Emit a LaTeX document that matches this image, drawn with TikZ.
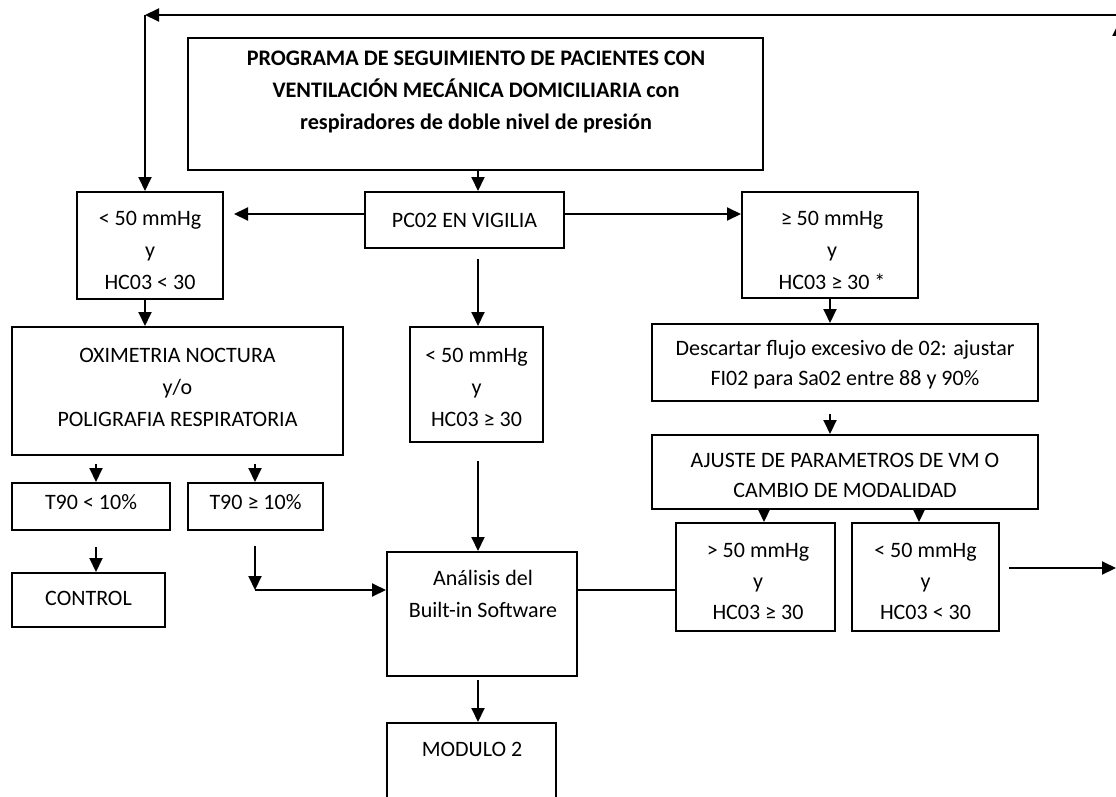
\documentclass[tikz,border=0pt]{standalone}
\usepackage{fontspec}
\setmainfont{Carlito}
\usetikzlibrary{arrows.meta}
\begin{document}
\begin{tikzpicture}[x=1pt,y=-1pt,
  box/.style={draw, line width=2pt, inner sep=0pt},
  txt/.style={align=center, inner sep=0pt, font=\fontsize{22}{32}\selectfont},
  ttl/.style={align=center, inner sep=0pt, font=\bfseries\fontsize{22.2}{32}\selectfont},
  arr/.style={line width=2pt, -{Triangle[length=14pt,width=13pt]}},
  ln/.style={line width=2pt}]
\useasboundingbox[fill=white] (0,0) rectangle (1116,797);
% boxes
\node[box, minimum width=575pt, minimum height=132pt] (title) at (475.5,104) {};
\node[box, minimum width=199pt, minimum height=56pt] (pc) at (464.5,220) {};
\node[box, minimum width=146pt, minimum height=107pt] (L1) at (150,245.5) {};
\node[box, minimum width=176pt, minimum height=106pt] (R1) at (830,245) {};
\node[box, minimum width=331pt, minimum height=128pt] (OX) at (177.5,391) {};
\node[box, minimum width=133pt, minimum height=115pt] (C2) at (476.5,384.5) {};
\node[box, minimum width=386pt, minimum height=77pt] (De) at (845,362.5) {};
\node[box, minimum width=386pt, minimum height=74pt] (Aj) at (845,472) {};
\node[box, minimum width=159pt, minimum height=108pt] (G50) at (755.5,577) {};
\node[box, minimum width=147pt, minimum height=108pt] (L50) at (925.5,577) {};
\node[box, minimum width=190pt, minimum height=124pt] (An) at (482,614) {};
\node[box, minimum width=169pt, minimum height=110pt] (MOD) at (471.5,778) {};
\node[box, minimum width=158pt, minimum height=47pt] (T1) at (91,506.5) {};
\node[box, minimum width=135pt, minimum height=47pt] (T2) at (255.5,506.5) {};
\node[box, minimum width=153pt, minimum height=54pt] (CT) at (88.5,600) {};
% texts
\node[ttl] (titleT) at (476,92) {PROGRAMA DE SEGUIMIENTO DE PACIENTES CON\\VENTILACIÓN MECÁNICA DOMICILIARIA con\\respiradores de doble nivel de presión};
\node[txt] (pcT) at (pc) {PC02 EN VIGILIA};
\node[txt] (L1T) at (150,250) {< 50 mmHg\\y\\HC03 < 30};
\node[txt] (R1T) at (832,250) {≥ 50 mmHg\\y\\HC03 ≥ 30 *};
\node[txt] (OXT) at (177.5,387) {OXIMETRIA NOCTURA\\y/o\\POLIGRAFIA RESPIRATORIA};
\node[txt] (C2T) at (476.5,387) {< 50 mmHg\\y\\HC03 ≥ 30};
\node[txt, font=\fontsize{22}{30}\selectfont] (DeT) at (845,365) {Descartar flujo excesivo de 02: ajustar\\FI02 para Sa02 entre 88 y 90\%};
\node[txt, font=\fontsize{22}{30}\selectfont] (AjT) at (845,475) {AJUSTE DE PARAMETROS DE VM O\\CAMBIO DE MODALIDAD};
\node[txt, font=\fontsize{22}{31}\selectfont] (G50T) at (758,581) {> 50 mmHg\\y\\HC03 ≥ 30};
\node[txt, font=\fontsize{22}{31}\selectfont] (L50T) at (925.5,581) {< 50 mmHg\\y\\HC03 < 30};
\node[txt] (AnT) at (483,594) {Análisis del\\Built-in Software};
\node[txt] (MODT) at (472,749) {MODULO 2};
\node[txt] (T1T) at (91,502) {T90 < 10\%};
\node[txt] (T2T) at (255.5,502) {T90 ≥ 10\%};
\node[txt] (CTT) at (88.5,598) {CONTROL};
% coordinates
\coordinate (tl) at (145,15);
\coordinate (tr) at (1130,15);
\coordinate (rtip) at (1116,568);
\coordinate (rbot) at (1119,568);
\coordinate (rup) at (1119,22);
\coordinate (xa) at (764,0);
\coordinate (xb) at (919,0);
\coordinate (xl1) at (96,0);
\coordinate (xl2) at (255,0);
\coordinate (xm) at (478,0);
\coordinate (corner) at (255,590);
% connectors
\draw[arr] (title.south -| xm) -- (pc.north -| xm);
\draw[arr] ([yshift=6pt]pc.west) -- ([yshift=6pt,xshift=10pt]pc.west -| L1.east);
\draw[arr] ([yshift=6pt]pc.east) -- ([yshift=6pt]pc.east -| R1.west);
\draw[arr] ([yshift=-10pt]pc.south -| xm) -- (C2.north -| xm);
\draw[arr] (tr) -- (tl);
\draw[arr] (tl) -- (tl |- L1.north);
\draw[arr] (rbot) -- (rup);
\draw[arr] (L1.south -| tl) -- (OX.north -| tl);
\draw[arr] (R1.south) -- (De.north -| R1.south);
\draw[arr] ([yshift=-12pt]De.south -| R1.south) -- (Aj.north -| R1.south);
\draw[arr] (Aj.south -| xa) -- (G50.north -| xa);
\draw[arr] (Aj.south -| xb) -- (L50.north -| xb);
\draw[arr] ([xshift=9pt,yshift=9pt]L50.east) -- (rtip);
\draw[ln] ([yshift=-13pt]G50.west) -- ([yshift=-13pt]G50.west -| An.east);
\draw[arr] ([yshift=-8pt]OX.south -| xl1) -- (T1.north -| xl1);
\draw[arr] ([yshift=-8pt]OX.south -| xl2) -- (T2.north -| xl2);
\draw[arr] ([yshift=-16pt]T1.south -| xl1) -- (CT.north -| xl1);
\draw[arr] ([yshift=-15pt]T2.south -| xl2) -- (corner);
\draw[arr] (corner) -- (corner -| An.west);
\draw[arr] ([yshift=-18pt]C2.south -| xm) -- (An.north -| xm);
\draw[arr] ([yshift=-3pt]An.south -| xm) -- (MOD.north -| xm);
\end{tikzpicture}
\end{document}
